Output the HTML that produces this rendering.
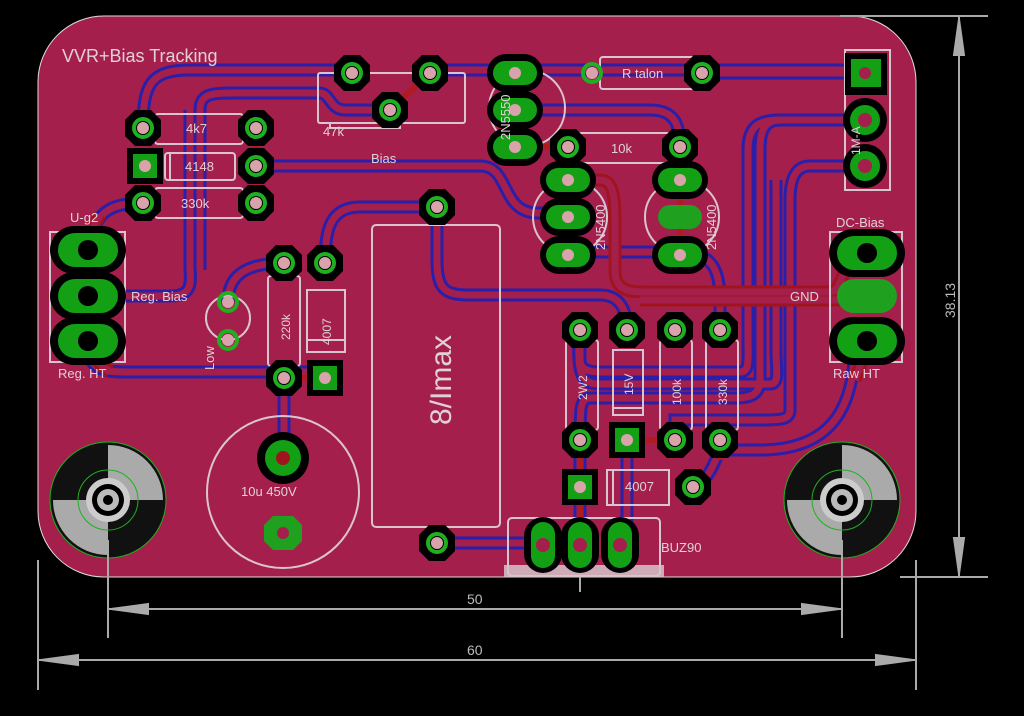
<!DOCTYPE html>
<html><head><meta charset="utf-8"><style>
html,body{margin:0;padding:0;background:#000;width:1024px;height:716px;overflow:hidden}
svg{display:block}
text{font-family:"Liberation Sans",sans-serif;fill:#e0d0d8}
</style></head><body>
<svg width="1024" height="716" viewBox="0 0 1024 716" xmlns="http://www.w3.org/2000/svg">
<defs>
<g id="op"><polygon points="-8,-18 8,-18 18,-8 18,8 8,18 -8,18 -18,8 -18,-8" fill="#000"/><circle r="9" fill="none" stroke="#1fb01f" stroke-width="4"/><circle r="6" fill="#d9a3ab"/></g>
<g id="gp"><circle r="9" fill="none" stroke="#1fb01f" stroke-width="4"/><circle r="6" fill="#d9a3ab"/></g>
<g id="sq"><rect x="-18" y="-18" width="36" height="36" fill="#000"/><rect x="-12" y="-12" width="24" height="24" fill="#14a014"/><circle r="6" fill="#d9a3ab"/></g>
<g id="ho"><rect x="-28" y="-19" width="56" height="38" rx="19" fill="#000"/><rect x="-22" y="-12" width="44" height="24" rx="12" fill="#14a014"/><circle r="6" fill="#d9a3ab"/></g>
<g id="hdr"><rect x="-38" y="-24" width="76" height="48" rx="24" fill="#000"/><rect x="-30" y="-17" width="60" height="34" rx="17" fill="#14a014"/><circle r="10" fill="#000"/></g>
<g id="vo"><rect x="-19" y="-28" width="38" height="56" rx="19" fill="#000"/><rect x="-12" y="-23" width="24" height="46" rx="12" fill="#14a014"/><circle r="7" fill="#a51f4d"/></g>
<g id="mh"><circle r="58" fill="#111" stroke="#1fb01f" stroke-width="1"/><path d="M0,-55 A55,55 0 0 1 55,0 L0,0Z M0,55 A55,55 0 0 1 -55,0 L0,0Z" fill="#aaa"/><circle r="30" fill="none" stroke="#1fb01f"/><circle r="22" fill="#ccc"/><circle r="16" fill="#000"/><circle r="11" fill="#bbb"/><circle r="5" fill="#000"/></g>
<g id="bt" fill="none">
<path d="M143,128 C143,85 150,70 190,70 L352,70"/>
<path d="M430,70 L860,70"/>
<path d="M200,270 L200,110 C200,95 210,93 230,93 L320,93 C330,93 330,110 345,110 L390,110"/>
<path d="M125,296 L170,296 C195,296 190,280 190,265 L190,110"/>
<path d="M256,166 L480,166 C510,166 500,210 535,213 L568,213"/>
<path d="M143,203 C100,203 95,220 88,250"/>
<path d="M437,207 L360,207 C330,207 325,230 325,263"/>
<path d="M437,207 L437,260 C437,290 445,295 470,295 L600,295 C620,295 627,310 627,330"/>
<path d="M284,263 C240,263 228,280 228,302"/>
<path d="M88,341 C88,370 100,372 130,372 L325,372"/>
<path d="M284,378 L284,458"/>
<path d="M702,73 L865,73"/>
<path d="M515,110 L650,110 C675,110 680,125 680,147"/>
<path d="M865,120 L780,120 C765,120 760,130 760,150 L760,380 C760,395 750,398 735,398 L590,398 C580,398 580,410 580,440"/>
<path d="M865,166 L810,166 C795,166 790,180 790,200 L790,410 C790,420 780,420 760,420 L675,420 L675,440"/>
<path d="M855,341 C855,410 830,450 760,450 L720,450 C715,460 710,480 693,487"/>
<path d="M437,543 L543,543"/>
<path d="M568,252 L680,252 C712,252 720,270 720,300 L720,330"/>
<path d="M580,330 L580,360 C580,370 590,372 600,372 L740,372 C750,372 748,360 748,340 L748,150 C748,125 760,120 780,120"/>
<path d="M580,330 C575,380 585,384 600,384 L770,384 C780,384 776,370 776,350 L776,180"/>
<path d="M627,455 L627,543"/>
<path d="M580,440 L580,530"/>
</g>
<g id="rt" fill="none">
<path d="M568,180 L600,180 C615,180 615,200 615,230 L615,270 C615,292 630,292 650,292 L830,292 C845,292 840,253 867,253"/>
<path d="M640,300 L855,300"/>
<path d="M88,250 C88,230 95,225 100,215"/>
<path d="M88,341 C95,360 100,365 110,372"/>
<path d="M867,341 C865,355 860,365 855,380"/>
</g>
</defs>
<rect width="1024" height="716" fill="#000"/>
<!-- board -->
<rect x="38" y="16" width="878" height="561" rx="66" fill="#a51f4d" stroke="#ddd" stroke-width="1"/>
<!-- traces -->
<use href="#bt" stroke="#2a1fa8" stroke-width="13"/>
<use href="#bt" stroke="#a51f4d" stroke-width="7"/>
<use href="#rt" stroke="#a0141e" stroke-width="13"/>
<use href="#rt" stroke="#a51f4d" stroke-width="7"/>
<g stroke="#b01a22" stroke-width="6" fill="none">
<path d="M256,128 L256,203"/><path d="M390,110 L430,73"/><path d="M515,147 L568,147 L568,255"/><path d="M680,147 L680,255"/><path d="M580,440 L580,487 L580,545"/><path d="M627,440 L675,440"/><path d="M720,440 L720,460"/><path d="M865,73 L845,73"/><path d="M865,120 L845,120"/><path d="M865,166 L845,166"/><path d="M88,296 L125,296"/><path d="M284,378 L325,378"/>
</g>
<!-- silkscreen -->
<g fill="none" stroke="#d9c5cf" stroke-width="2">
<rect x="318" y="73" width="147" height="50" rx="2"/><path d="M330,123 L330,128 L400,128 L400,123"/>
<rect x="155" y="114" width="88" height="30" rx="3"/>
<rect x="165" y="153" width="70" height="27" rx="3"/><line x1="170" y1="153" x2="170" y2="180"/>
<rect x="155" y="188" width="88" height="30" rx="3"/>
<circle cx="527" cy="108" r="38"/>
<rect x="600" y="57" width="95" height="32" rx="3"/>
<rect x="578" y="133" width="92" height="30" rx="3"/>
<circle cx="570" cy="217" r="37"/><circle cx="682" cy="217" r="37"/>
<rect x="845" y="50" width="45" height="140"/>
<rect x="830" y="232" width="72" height="130"/>
<rect x="50" y="232" width="75" height="130"/>
<circle cx="228" cy="318" r="22"/>
<rect x="268" y="276" width="32" height="90" rx="3"/>
<rect x="307" y="290" width="38" height="62"/><line x1="307" y1="340" x2="345" y2="340"/>
<rect x="372" y="225" width="128" height="302" rx="4"/>
<circle cx="283" cy="492" r="76"/>
<rect x="566" y="340" width="32" height="90" rx="3"/>
<rect x="613" y="350" width="30" height="65"/><line x1="613" y1="408" x2="643" y2="408"/>
<rect x="660" y="340" width="32" height="90" rx="3"/>
<rect x="706" y="340" width="32" height="90" rx="3"/>
<rect x="607" y="470" width="62" height="35"/><line x1="613" y1="470" x2="613" y2="505"/>
<rect x="508" y="518" width="152" height="58" rx="4"/>
</g>
<rect x="504" y="565" width="160" height="12" fill="#d6c4ca" opacity=".85"/>
<!-- pads -->
<use href="#op" x="352" y="73"/><use href="#op" x="430" y="73"/><use href="#op" x="390" y="110"/>
<use href="#op" x="143" y="128"/><use href="#op" x="256" y="128"/>
<use href="#sq" x="145" y="166"/><use href="#op" x="256" y="166"/>
<use href="#op" x="143" y="203"/><use href="#op" x="256" y="203"/>
<use href="#ho" x="515" y="73"/><use href="#ho" x="515" y="110"/><use href="#ho" x="515" y="147"/>
<use href="#gp" x="592" y="73"/><use href="#op" x="702" y="73"/>
<use href="#op" x="568" y="147"/><use href="#op" x="680" y="147"/>
<use href="#ho" x="568" y="180"/><use href="#ho" x="568" y="217"/><use href="#ho" x="568" y="255"/>
<use href="#ho" x="680" y="180"/><use href="#ho" x="680" y="255"/>
<rect x="658" y="205" width="44" height="24" rx="12" fill="#1fa01f"/>
<rect x="845" y="53" width="42" height="42" fill="#000"/><rect x="851" y="59" width="30" height="28" fill="#14a014"/><circle cx="865" cy="73" r="6" fill="#a51f4d"/>
<circle cx="865" cy="120" r="22" fill="#000"/><circle cx="865" cy="120" r="15" fill="#14a014"/><circle cx="865" cy="120" r="7" fill="#a51f4d"/>
<circle cx="865" cy="166" r="22" fill="#000"/><circle cx="865" cy="166" r="15" fill="#14a014"/><circle cx="865" cy="166" r="7" fill="#a51f4d"/>
<use href="#hdr" x="867" y="253"/>
<rect x="837" y="279" width="60" height="34" rx="17" fill="#1fa01f"/>
<use href="#hdr" x="867" y="341"/>
<use href="#hdr" x="88" y="250"/><use href="#hdr" x="88" y="296"/><use href="#hdr" x="88" y="341"/>
<use href="#gp" x="228" y="302"/><use href="#gp" x="228" y="340"/>
<use href="#op" x="284" y="263"/><use href="#op" x="325" y="263"/>
<use href="#op" x="284" y="378"/><use href="#sq" x="325" y="378"/>
<use href="#op" x="437" y="207"/><use href="#op" x="437" y="543"/>
<circle cx="283" cy="458" r="26" fill="#000"/><circle cx="283" cy="458" r="18" fill="#14a014"/><circle cx="283" cy="458" r="7" fill="#a0141e"/>
<polygon points="273,516 293,516 302,525 302,541 293,550 273,550 264,541 264,525" fill="#1fa01f"/><circle cx="283" cy="533" r="6" fill="#a51f4d"/>
<use href="#op" x="580" y="330"/><use href="#op" x="627" y="330"/><use href="#op" x="675" y="330"/><use href="#op" x="720" y="330"/>
<use href="#op" x="580" y="440"/><use href="#sq" x="627" y="440"/><use href="#op" x="675" y="440"/><use href="#op" x="720" y="440"/>
<use href="#sq" x="580" y="487"/><use href="#op" x="693" y="487"/>
<use href="#vo" x="543" y="545"/><use href="#vo" x="580" y="545"/><use href="#vo" x="620" y="545"/>
<use href="#mh" x="108" y="500"/><use href="#mh" x="842" y="500"/>
<!-- labels -->
<text x="62" y="62" font-size="18">VVR+Bias Tracking</text>
<text x="323" y="136" font-size="13">47k</text>
<text x="371" y="163" font-size="13">Bias</text>
<text x="186" y="133" font-size="13">4k7</text>
<text x="185" y="171" font-size="13">4148</text>
<text x="181" y="208" font-size="13">330k</text>
<text x="70" y="222" font-size="13">U-g2</text>
<text x="131" y="301" font-size="13">Reg. Bias</text>
<text x="58" y="378" font-size="13">Reg. HT</text>
<text x="622" y="78" font-size="13">R talon</text>
<text x="611" y="153" font-size="13">10k</text>
<text x="836" y="227" font-size="13">DC-Bias</text>
<text x="790" y="301" font-size="13">GND</text>
<text x="833" y="378" font-size="13">Raw HT</text>
<text x="241" y="496" font-size="13">10u 450V</text>
<text x="625" y="491" font-size="13">4007</text>
<text x="661" y="552" font-size="13">BUZ90</text>
<text transform="translate(510,140) rotate(-90)" font-size="13">2N5550</text>
<text transform="translate(605,250) rotate(-90)" font-size="13">2N5400</text>
<text transform="translate(716,250) rotate(-90)" font-size="13">2N5400</text>
<text transform="translate(860,155) rotate(-90)" font-size="12">1M-A</text>
<text transform="translate(214,370) rotate(-90)" font-size="13">Low</text>
<text transform="translate(290,340) rotate(-90)" font-size="12">220k</text>
<text transform="translate(331,345) rotate(-90)" font-size="12">4007</text>
<text transform="translate(451,425) rotate(-90)" font-size="30">8/Imax</text>
<text transform="translate(587,400) rotate(-90)" font-size="12">2W2</text>
<text transform="translate(633,395) rotate(-90)" font-size="12">15V</text>
<text transform="translate(681,405) rotate(-90)" font-size="12">100k</text>
<text transform="translate(727,405) rotate(-90)" font-size="12">330k</text>
<!-- dimensions -->
<g stroke="#aaa" stroke-width="2" fill="#aaa">
<line x1="840" y1="16" x2="988" y2="16"/><line x1="900" y1="577" x2="988" y2="577"/>
<line x1="959" y1="16" x2="959" y2="577"/>
<polygon points="959,19 954,55 964,55"/><polygon points="959,574 954,538 964,538"/>
<line x1="108" y1="540" x2="108" y2="638"/><line x1="842" y1="540" x2="842" y2="638"/>
<line x1="38" y1="560" x2="38" y2="690"/><line x1="916" y1="560" x2="916" y2="690"/>
<line x1="108" y1="609" x2="842" y2="609"/>
<polygon points="111,609 148,604 148,614"/><polygon points="839,609 802,604 802,614"/>
<line x1="38" y1="660" x2="916" y2="660"/>
<polygon points="41,660 78,655 78,665"/><polygon points="913,660 876,655 876,665"/>
<line x1="580" y1="577" x2="580" y2="592"/>
</g>
<text x="467" y="604" font-size="14" style="fill:#bbb">50</text>
<text x="467" y="655" font-size="14" style="fill:#bbb">60</text>
<text transform="translate(955,318) rotate(-90)" font-size="14" style="fill:#bbb">38.13</text>
</svg>
</body></html>
